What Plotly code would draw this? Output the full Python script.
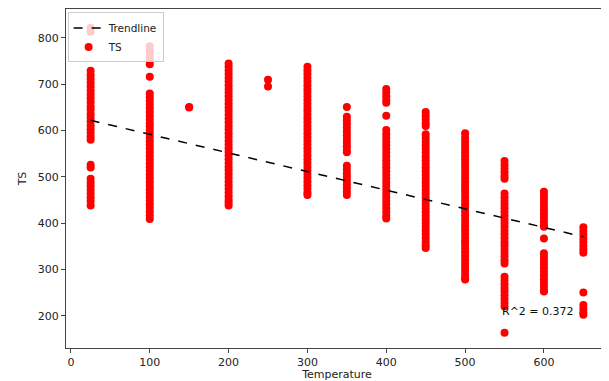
import plotly.graph_objects as go

# ---- data ----
ts_25 = [822, 814, 729, 720, 712, 703, 695, 686, 678, 670, 661, 652, 645, 636, 628, 620, 611,
         603, 595, 587, 580, 526, 520, 496, 488, 480, 472, 464, 456, 448, 438]
ts_100 = [782, 774, 766, 758, 750, 743, 716, 680, 672, 664, 656, 648, 640, 632, 624, 616, 609,
          601, 593, 585, 577, 569, 561, 553, 545, 537, 529, 521, 513, 505, 497, 489, 481, 473,
          465, 457, 449, 441, 433, 425, 417, 409]
ts_150 = [650, 651]
ts_200 = [745, 738, 730, 722, 714, 706, 698, 690, 682, 674, 666, 658, 650, 642, 634, 626, 618,
          610, 602, 594, 586, 578, 570, 562, 554, 546, 538, 530, 522, 514, 506, 498, 490, 482,
          474, 466, 458, 450, 444, 438]
ts_250 = [710, 695]
ts_300 = [738, 730, 722, 714, 706, 698, 690, 682, 674, 666, 658, 650, 642, 634, 626, 618, 610,
          602, 594, 586, 578, 570, 562, 554, 546, 538, 530, 522, 514, 506, 498, 490, 482, 474,
          466, 461]
ts_350 = [651, 630, 622, 614, 606, 598, 590, 582, 574, 566, 558, 553, 524, 516, 508, 500, 492,
          484, 476, 468, 461]
ts_400 = [690, 682, 674, 666, 660, 632, 601, 592, 584, 576, 568, 560, 552, 544, 536, 528, 520,
          512, 504, 496, 488, 480, 472, 464, 456, 448, 440, 432, 424, 416, 410]
ts_450 = [640, 632, 624, 616, 610, 592, 584, 576, 568, 560, 552, 544, 536, 528, 520, 512, 504,
          496, 488, 480, 472, 464, 456, 448, 440, 432, 424, 416, 408, 400, 392, 384, 376, 368,
          360, 352, 346]
ts_500 = [594, 585, 577, 569, 561, 553, 545, 537, 529, 521, 513, 505, 497, 489, 481, 473, 465,
          457, 449, 441, 433, 425, 417, 409, 401, 393, 385, 377, 369, 361, 353, 345, 337, 329,
          321, 313, 305, 297, 289, 281, 278]
ts_550 = [534, 526, 518, 510, 502, 496, 464, 456, 448, 440, 432, 424, 416, 408, 400, 392, 384,
          376, 368, 360, 352, 344, 336, 328, 320, 313, 284, 276, 268, 260, 252, 244, 236, 228,
          220, 163]
ts_600 = [468, 460, 452, 444, 436, 428, 420, 412, 404, 396, 392, 367, 335, 327, 319, 311, 303,
          295, 287, 279, 271, 263, 255, 252]
ts_650 = [391, 383, 375, 367, 359, 351, 343, 336, 250, 223, 215, 207, 202]

trend_slope = -0.4024
trend_intercept = 632.1
r2_label = "R^2 = 0.372"
r2_pos = (544, 210)

x_ticks = [0, 100, 200, 300, 400, 500, 600]
y_ticks = [200, 300, 400, 500, 600, 700, 800]

groups = [(25, ts_25), (100, ts_100), (150, ts_150), (200, ts_200), (250, ts_250),
          (300, ts_300), (350, ts_350), (400, ts_400), (450, ts_450), (500, ts_500),
          (550, ts_550), (600, ts_600), (650, ts_650)]
xs, ys = [], []
for t, vals in groups:
    xs += [t] * len(vals)
    ys += vals

tx = [min(xs), max(xs)]
ty = [trend_slope * v + trend_intercept for v in tx]

font = dict(family="DejaVu Sans", size=11, color="#222")

fig = go.Figure()
fig.add_trace(go.Scatter(x=xs, y=ys, mode="markers", name="TS", legendrank=2,
                         marker=dict(color="red", size=8, line=dict(width=0))))
fig.add_trace(go.Scatter(x=tx, y=ty, mode="lines", name="Trendline", legendrank=1,
                         line=dict(color="black", dash="dash", width=1.5)))

fig.add_annotation(x=r2_pos[0], y=r2_pos[1], text=r2_label, showarrow=False,
                   xanchor="left", yanchor="middle", font=dict(family="DejaVu Sans", size=11, color="#111"))

axis_common = dict(showline=True, linecolor="#444", linewidth=1, mirror=True,
                   ticks="outside", ticklen=4, tickcolor="#444", showgrid=False,
                   zeroline=False, tickfont=font)
fig.update_xaxes(range=[-6.25, 681.25], tickvals=x_ticks,
                 title=dict(text="Temperature", font=font, standoff=2), **axis_common)
fig.update_yaxes(range=[130.2, 862.6], tickvals=y_ticks,
                 title=dict(text="TS", font=font, standoff=8), **axis_common)

fig.update_layout(
    width=601, height=373,
    margin=dict(l=58, r=1, t=1, b=33, autoexpand=False),
    paper_bgcolor="white", plot_bgcolor="white",
    showlegend=True,
    legend=dict(x=0.003, y=0.99, xanchor="left", yanchor="top",
                bgcolor="rgba(255,255,255,0.8)", bordercolor="#ccc", borderwidth=1,
                font=dict(family="DejaVu Sans", size=10.5, color="#222"),
                tracegroupgap=0, itemwidth=30),
)
fig.write_html("out.html")
